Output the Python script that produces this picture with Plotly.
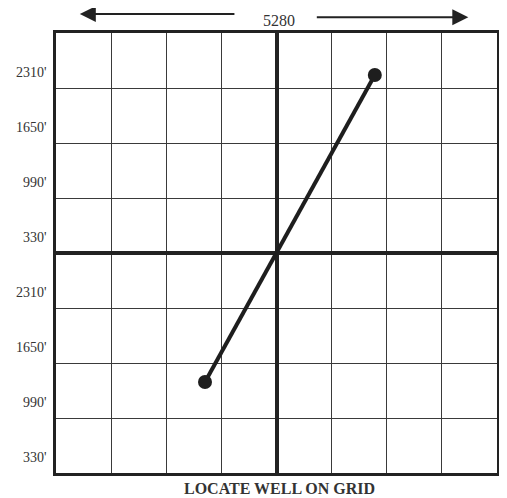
import plotly.graph_objects as go

# Section grid: 5280 ft square, centred on the section centre
section_width = 5280
cell = 660
well_x = [-856, 1177]    # ft east of centre
well_y = [-1548, 2136]   # ft north of centre
left_labels = ["330'", "990'", "1650'", "2310'", "330'", "990'", "1650'", "2310'"]
top_label = "5280"
title_text = "LOCATE WELL ON GRID"

half = section_width / 2
serif = "Liberation Serif, Times New Roman, serif"
ink = "#222222"

fig = go.Figure()
fig.add_trace(go.Scatter(
    x=well_x, y=well_y, mode="lines+markers",
    line=dict(color="#1e1e1e", width=4),
    marker=dict(color="#1e1e1e", size=14),
    hoverinfo="skip", showlegend=False,
))

axis_common = dict(
    range=[-half, half], dtick=cell, tick0=0,
    showgrid=True, gridcolor="#3a3a3a", gridwidth=1,
    zeroline=True, zerolinecolor=ink, zerolinewidth=4,
    showline=True, mirror=True, linecolor=ink, linewidth=3,
    showticklabels=False, ticks="", fixedrange=True,
)
fig.update_xaxes(**axis_common)
fig.update_yaxes(**axis_common)

annotations = []
# left labels, sitting in the lower part of each grid cell
for i, lab in enumerate(left_labels):
    yv = -half + i * cell + cell * 0.29
    annotations.append(dict(
        x=0, xref="paper", y=yv, yref="y", text=lab, showarrow=False,
        xanchor="right", yanchor="middle", xshift=-7,
        font=dict(family=serif, size=14, color="#333333"),
    ))
# top distance label
annotations.append(dict(
    x=0.505, xref="paper", y=1.0295, yref="paper", text=top_label,
    showarrow=False, xanchor="center", yanchor="middle",
    font=dict(family=serif, size=16, color="#333333"),
))
# arrows
for tip_x, tail_x, ay in [(0.054, 0.408, 1.043), (0.935, 0.588, 1.036)]:
    annotations.append(dict(
        x=tip_x, y=ay, xref="x domain", yref="y domain",
        ax=tail_x, ay=ay, axref="x domain", ayref="y domain",
        showarrow=True, arrowhead=2, arrowsize=1.6, arrowwidth=2,
        arrowcolor=ink, text="",
    ))
# bottom caption
annotations.append(dict(
    x=0.507, xref="paper", y=-0.036, yref="paper", text="<b>" + title_text + "</b>",
    showarrow=False, xanchor="center", yanchor="middle",
    font=dict(family=serif, size=16, color="#333333"),
))

fig.update_layout(
    width=499, height=490,
    margin=dict(l=48, r=7, t=25, b=25),
    paper_bgcolor="white", plot_bgcolor="white",
    annotations=annotations,
    showlegend=False,
)

fig.write_html("out.html")
